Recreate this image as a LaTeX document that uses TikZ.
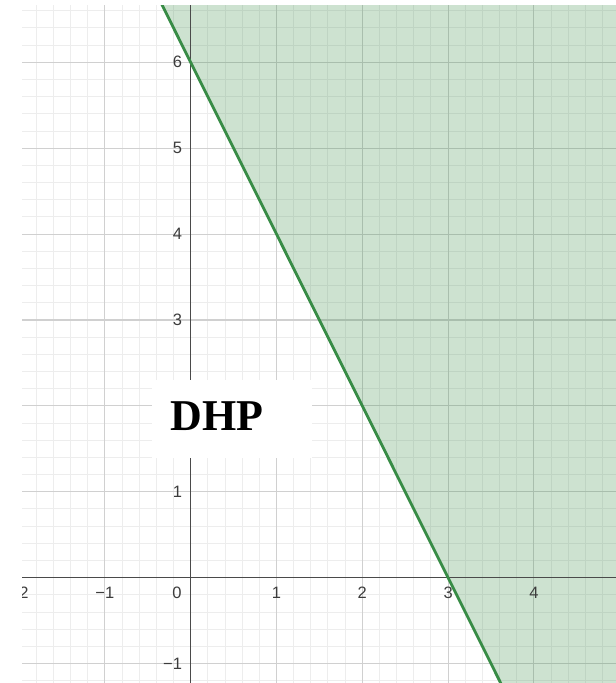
\documentclass[tikz,border=0pt]{standalone}
\usepackage{fontspec}
\setmainfont{Liberation Serif}
\newfontfamily\labfont{Liberation Sans}
\definecolor{minorgrid}{HTML}{EDEDED}
\definecolor{majorgrid}{HTML}{D0D0D0}
\definecolor{axiscol}{HTML}{4A4A4A}
\definecolor{curvecol}{HTML}{388C46}
\definecolor{labcol}{HTML}{3C3C3C}
\tikzset{
  minorline/.style={draw=minorgrid, line width=1pt},
  majorline/.style={draw=majorgrid, line width=1.1pt},
  axisline/.style={draw=axiscol, line width=1.6pt},
  boundary/.style={draw=curvecol, line width=2.8pt},
  region/.style={fill=curvecol, fill opacity=0.25},
  ylab/.style={font=\labfont\fontsize{16.5}{16.5}\selectfont, text=labcol, inner sep=0pt, anchor=east, xshift=-8.5pt},
  xlab/.style={font=\labfont\fontsize{16.5}{16.5}\selectfont, text=labcol, inner sep=0pt, anchor=north, yshift=-9.5pt},
  titlebox/.style={fill=white, inner sep=0pt, minimum width=160pt, minimum height=78pt},
  titletext/.style={font=\bfseries\fontsize{44}{44}\selectfont, text=black, inner sep=0pt}
}
\begin{document}
\begin{tikzpicture}[x=85.8pt, y=85.9pt]
\useasboundingbox[fill=white] (-2.2226,-1.2259) rectangle (4.9569,6.7253);
\begin{scope}
\clip (-1.966,-1.2259) rectangle (4.9569,6.667);
% minor grid
\foreach \i in {-10,...,25} {
  \draw[minorline] (\i*0.2,-1.3) -- (\i*0.2,6.8);
}
\foreach \j in {-7,...,34} {
  \draw[minorline] (-2.3,\j*0.2) -- (5,\j*0.2);
}
% major grid
\foreach \i in {-2,...,5} {
  \draw[majorline] (\i,-1.3) -- (\i,6.8);
}
\foreach \j in {-1,...,7} {
  \draw[majorline] (-2.3,\j) -- (5,\j);
}
% shaded half-plane 2x + y >= 6
\fill[region] (-0.45,6.9) -- (3.65,-1.3) -- (5.1,-1.3) -- (5.1,6.9) -- cycle;
% axes
\coordinate (xl) at (-2.3,0);
\coordinate (xr) at (5.1,0);
\coordinate (yb) at (0,-1.3);
\coordinate (yt) at (0,6.9);
\draw[axisline] (xl) -- (xr);
\draw[axisline] (yb) -- (yt);
% boundary line y = 6 - 2x
\coordinate (ltop) at (-0.45,6.9);
\coordinate (lbot) at (3.65,-1.3);
\draw[boundary] (ltop) -- (lbot);
% axis labels
\node[ylab] (y6) at (0,6) {6};
\node[ylab] (y5) at (0,5) {5};
\node[ylab] (y4) at (0,4) {4};
\node[ylab] (y3) at (0,3) {3};
\node[ylab] (y1) at (0,1) {1};
\node[ylab] (ym1) at (0,-1) {−1};
\node[xlab] (xm2) at (-2,0) {−2};
\node[xlab] (xm1) at (-1,0) {−1};
\node[xlab, anchor=north east, xshift=-9pt] (x0) at (0,0) {0};
\node[xlab] (x1) at (1,0) {1};
\node[xlab] (x2) at (2,0) {2};
\node[xlab] (x3) at (3,0) {3};
\node[xlab] (x4) at (4,0) {4};
\end{scope}
% title box
\node[titlebox] (box) at (0.4817,1.8473) {};
\node[titletext, anchor=base] (dhp) at (0.3065,1.708) {DHP};
\end{tikzpicture}
\end{document}
